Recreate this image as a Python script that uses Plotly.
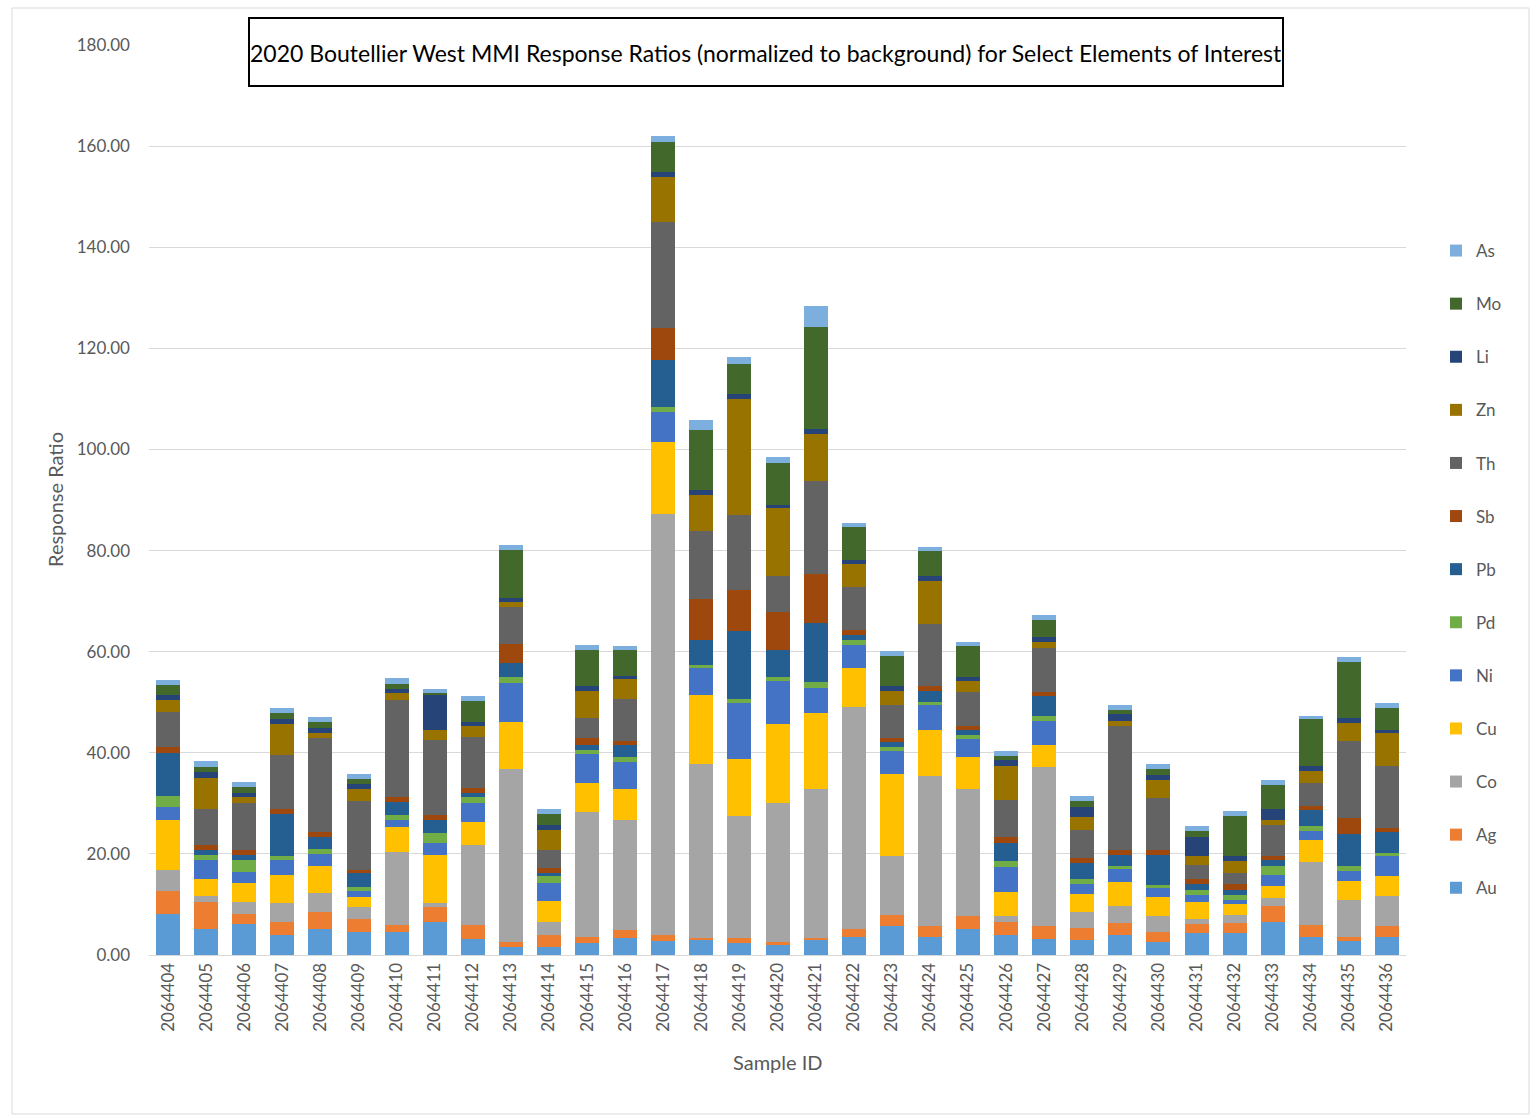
import plotly.graph_objects as go

samples = ["2064404", "2064405", "2064406", "2064407", "2064408", "2064409", "2064410",
           "2064411", "2064412", "2064413", "2064414", "2064415", "2064416", "2064417",
           "2064418", "2064419", "2064420", "2064421", "2064422", "2064423", "2064424",
           "2064425", "2064426", "2064427", "2064428", "2064429", "2064430", "2064431",
           "2064432", "2064433", "2064434", "2064435", "2064436"]

Au = [8.1, 5.2, 6.1, 4.0, 5.2, 4.6, 4.6, 6.6, 3.1, 1.6, 1.6, 2.4, 3.4, 2.8, 2.9, 2.3, 2.0,
      2.9, 3.5, 5.7, 3.5, 5.2, 4.0, 3.1, 3.0, 4.0, 2.6, 4.4, 4.4, 6.5, 3.5, 2.8, 3.5]
Ag = [4.6, 5.3, 2.0, 2.6, 3.4, 2.5, 1.3, 2.8, 2.8, 1.0, 2.4, 1.2, 1.6, 1.2, 0.5, 1.1, 0.5,
      0.5, 1.6, 2.2, 2.2, 2.6, 2.6, 2.6, 2.3, 2.3, 2.0, 1.7, 1.9, 3.1, 2.5, 0.7, 2.2]
Co = [4.1, 1.2, 2.4, 3.6, 3.6, 2.3, 14.5, 0.8, 15.9, 34.1, 2.6, 24.7, 21.8, 83.3, 34.3, 24.1, 27.6,
      29.5, 44.0, 11.7, 29.7, 25.1, 1.1, 31.4, 3.3, 3.4, 3.1, 1.0, 1.7, 1.6, 12.4, 7.3, 5.9]
Cu = [10.0, 3.4, 3.8, 5.6, 5.4, 2.0, 5.0, 9.6, 4.6, 9.4, 4.1, 5.7, 6.1, 14.1, 13.7, 11.3, 15.5,
      14.9, 7.6, 16.3, 9.2, 6.3, 4.8, 4.5, 3.5, 4.8, 3.7, 3.4, 2.0, 2.4, 4.4, 3.8, 4.0]
Ni = [2.5, 3.7, 2.2, 3.0, 2.4, 1.3, 1.4, 2.3, 3.6, 7.8, 3.6, 5.8, 5.3, 6.0, 5.3, 11.0, 8.6,
      5.1, 4.7, 4.4, 4.8, 3.6, 5.0, 4.6, 2.0, 2.5, 1.8, 1.4, 0.8, 2.3, 1.7, 2.0, 3.9]
Pd = [2.1, 1.0, 2.3, 0.8, 0.9, 0.8, 0.9, 2.1, 1.3, 1.0, 1.3, 0.7, 0.9, 1.0, 0.7, 0.8, 0.7,
      1.1, 1.0, 0.8, 0.7, 0.8, 1.0, 1.0, 0.9, 0.7, 0.7, 1.0, 1.0, 1.7, 1.0, 1.0, 0.7]
Pb = [8.5, 1.0, 1.0, 8.3, 2.5, 2.7, 2.6, 2.5, 0.7, 2.8, 0.7, 1.0, 2.5, 9.2, 4.9, 13.5, 5.4,
      11.6, 0.9, 1.1, 2.2, 0.9, 3.7, 4.0, 3.2, 2.1, 5.9, 1.2, 1.1, 1.1, 3.1, 6.4, 4.2]
Sb = [1.2, 1.0, 1.0, 0.9, 1.0, 0.6, 1.0, 1.0, 1.0, 3.9, 1.0, 1.4, 0.8, 6.4, 8.1, 8.1, 7.6,
      9.8, 1.0, 0.8, 0.9, 0.8, 1.1, 0.9, 0.9, 0.9, 1.0, 1.0, 1.2, 0.8, 0.8, 3.1, 0.7]
Th = [7.0, 7.0, 9.2, 10.8, 18.5, 13.7, 19.1, 14.8, 10.1, 7.2, 3.5, 3.9, 8.3, 20.9, 13.4, 14.9, 7.0,
      18.3, 8.4, 6.5, 12.2, 6.8, 7.4, 8.6, 5.7, 24.5, 10.2, 2.8, 2.1, 6.3, 4.7, 15.2, 12.3]
Zn = [2.3, 6.3, 1.2, 6.1, 1.1, 2.3, 1.4, 2.0, 2.1, 1.1, 3.9, 5.5, 3.9, 9.0, 7.2, 22.9, 13.5,
      9.4, 4.7, 2.8, 8.6, 2.1, 6.6, 1.3, 2.5, 1.0, 3.7, 1.6, 2.3, 1.0, 2.3, 3.6, 6.6]
Li = [1.0, 1.0, 0.9, 0.9, 1.0, 1.0, 0.9, 6.9, 0.9, 0.8, 1.0, 0.9, 0.5, 1.0, 0.9, 0.9, 0.6,
      0.9, 0.8, 0.9, 0.9, 0.7, 1.3, 1.0, 1.9, 1.5, 0.9, 3.8, 1.0, 2.0, 1.0, 1.0, 0.6]
Mo = [2.0, 1.1, 1.2, 1.3, 1.1, 1.1, 1.0, 0.5, 4.2, 9.4, 2.2, 7.1, 5.3, 6.0, 12.0, 6.0, 8.4,
      20.2, 6.4, 6.0, 5.0, 6.2, 0.8, 3.2, 1.2, 0.8, 1.2, 1.2, 8.0, 4.9, 9.2, 11.1, 4.2]
As = [0.9, 1.2, 1.0, 0.9, 1.0, 1.0, 1.0, 0.8, 0.9, 1.0, 0.9, 1.0, 0.8, 1.1, 1.9, 1.3, 1.1,
      4.2, 0.8, 0.9, 0.9, 0.8, 0.9, 1.1, 1.0, 1.0, 1.0, 1.0, 0.9, 1.0, 0.7, 0.9, 1.1]

elements = ["Au", "Ag", "Co", "Cu", "Ni", "Pd", "Pb", "Sb", "Th", "Zn", "Li", "Mo", "As"]
series = [Au, Ag, Co, Cu, Ni, Pd, Pb, Sb, Th, Zn, Li, Mo, As]
colors = ["#5B9BD5", "#ED7D31", "#A5A5A5", "#FFC000", "#4472C4", "#70AD47", "#255E91",
          "#9E480E", "#636363", "#997300", "#264478", "#43682B", "#7CAFDD"]

title_text = "2020 Boutellier West MMI Response Ratios (normalized to background) for Select Elements of Interest"
font_family = "Lato, 'Open Sans', sans-serif"
gray_text = "#595959"

fig = go.Figure()
n = len(elements)
for i, (name, vals, col) in enumerate(zip(elements, series, colors)):
    fig.add_trace(go.Bar(x=samples, y=vals, name=name, legendgroup=name,
                         legendrank=n - i,
                         marker=dict(color=col, line=dict(width=0))))

W, H = 1532, 1118
L, R, T, B = 149, 126, 45, 163
pw, ph = W - L - R, H - T - B

def px(x):
    return (x - L) / pw

def py(y):
    return (H - B - y) / ph

fig.update_layout(
    width=W, height=H,
    margin=dict(l=L, r=R, t=T, b=B, autoexpand=False),
    barmode="stack", bargap=0.37,
    paper_bgcolor="white", plot_bgcolor="white",
    font=dict(family=font_family, color=gray_text, size=17),
    showlegend=True,
    legend=dict(x=px(1436), y=py(233), xanchor="left", yanchor="top",
                traceorder="grouped", tracegroupgap=28,
                font=dict(size=17, color=gray_text), itemwidth=30),
    xaxis=dict(type="category", tickangle=-90, showgrid=False,
               showline=True, linecolor="#D9D9D9", linewidth=1,
               ticks="", tickfont=dict(size=17, color=gray_text)),
    yaxis=dict(range=[0, 180], dtick=20, tickformat=".2f",
               showgrid=True, gridcolor="#D9D9D9", gridwidth=1,
               zeroline=False, showline=False, ticks="",
               ticklabelstandoff=18,
               tickfont=dict(size=17, color=gray_text)),
    shapes=[
        dict(type="rect", xref="paper", yref="paper",
             x0=px(12), x1=px(1529), y0=py(1114), y1=py(8),
             line=dict(color="#D9D9D9", width=1), fillcolor="rgba(0,0,0,0)", layer="below"),
        dict(type="rect", xref="paper", yref="paper",
             x0=px(249), x1=px(1283), y0=py(86), y1=py(18),
             line=dict(color="black", width=2), fillcolor="white", layer="above"),
    ],
    annotations=[
        dict(text=title_text, xref="paper", yref="paper", x=px(766), y=py(53),
             xanchor="center", yanchor="middle", showarrow=False,
             font=dict(size=23, color="black", family=font_family)),
        dict(text="Response Ratio", xref="paper", yref="paper", x=px(55), y=py(500),
             xanchor="center", yanchor="middle", showarrow=False, textangle=-90,
             font=dict(size=20, color=gray_text)),
        dict(text="Sample ID", xref="paper", yref="paper", x=px(778), y=py(1062),
             xanchor="center", yanchor="middle", showarrow=False,
             font=dict(size=20, color=gray_text)),
    ],
)

fig.write_html("out.html")
